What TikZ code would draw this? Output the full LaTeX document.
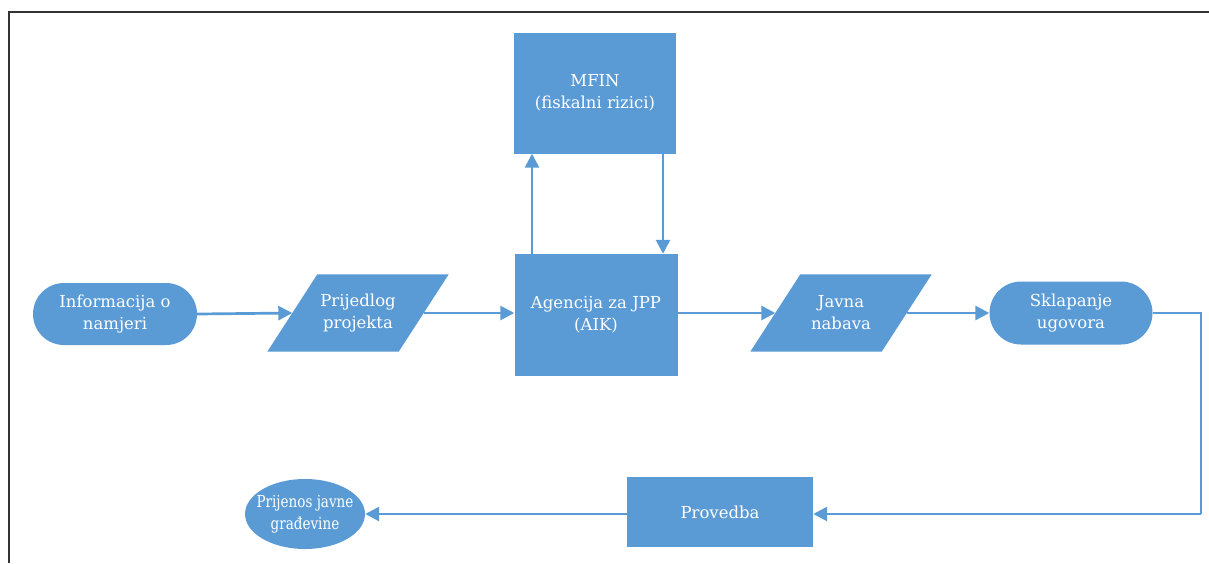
\documentclass[tikz,border=0pt]{standalone}
\usepackage{fontspec}
\setmainfont{DejaVu Serif}
\newfontfamily\condfont[FakeStretch=0.82]{DejaVu Serif}
\usetikzlibrary{arrows.meta,backgrounds,shapes.misc,shapes.geometric}
\definecolor{fl}{HTML}{5B9BD5}
\definecolor{ln}{HTML}{5B9BD5}
\tikzset{
  base/.style={text=white,font=\fontsize{16.5}{22}\selectfont,align=center,inner sep=0pt},
  boxnode/.style={base,rectangle,fill=fl},
  stadium/.style={base,rounded rectangle,fill=fl},
  ellnode/.style={base,ellipse,fill=fl,inner xsep=-6pt,inner ysep=0pt},
  paranode/.style={base,rectangle,minimum width=131pt,minimum height=77pt},
  conn/.style={draw=ln,line width=2.7pt,-{Triangle[length=14pt,width=14pt]}},
  plain/.style={draw=ln,line width=2.7pt},
  frame/.style={draw=black!80,line width=1.4pt}
}
\begin{document}
\begin{tikzpicture}[x=1pt,y=-1pt]
\useasboundingbox (0,0) rectangle (1209,563);
\draw[frame] (1209,12) -- (9,12) -- (9,563);

\node[stadium,minimum width=164pt,minimum height=62pt] (info) at (115,314) {Informacija o\\namjeri};
\node[paranode] (prij) at (358,313) {Prijedlog\\projekta};
\node[boxnode,minimum width=163pt,minimum height=122pt] (agen) at (596,315) {Agencija za JPP\\(AIK)};
\node[boxnode,minimum width=162pt,minimum height=121pt] (mfin) at (595,93) {MFIN\\(fiskalni rizici)};
\node[paranode] (javna) at (841,313) {Javna\\nabava};
\node[stadium,minimum width=163pt,minimum height=63pt] (sklap) at (1071,313) {Sklapanje\\ugovora};
\node[boxnode,minimum width=186pt,minimum height=70pt] (prov) at (720,512) {Provedba};
\node[ellnode,minimum width=116pt,minimum height=70pt] (prijen) at (305,514) {\condfont Prijenos javne\\\condfont građevine};
\coordinate (c1) at (1201,313);
\coordinate (c2) at (1201,514);

\begin{scope}[on background layer]
\fill[white] (0,0) rectangle (1209,563);
\foreach \n in {prij,javna}{
  \fill[fl] ([xshift=25pt]\n.north west) -- ([xshift=25pt]\n.north east)
     -- ([xshift=-25pt]\n.south east) -- ([xshift=-25pt]\n.south west) -- cycle;
}
\end{scope}

\draw[conn] (info.east) -- (prij.west);
\draw[conn] (prij.east) -- (prij.east -| agen.west);
\draw[conn] ([xshift=-64pt]agen.north) -- ([xshift=-63pt]mfin.south);
\draw[conn] ([xshift=68pt]mfin.south) -- ([xshift=67pt]agen.north);
\draw[conn] (agen.east |- javna.west) -- (javna.west);
\draw[conn] (javna.east) -- (sklap.west);
\draw[plain] (sklap.east) -- (c1) -- (c2);
\draw[conn] (c2) -- (c2 -| prov.east);
\draw[conn] (prov.west |- prijen.east) -- (prijen.east);
\end{tikzpicture}
\end{document}
